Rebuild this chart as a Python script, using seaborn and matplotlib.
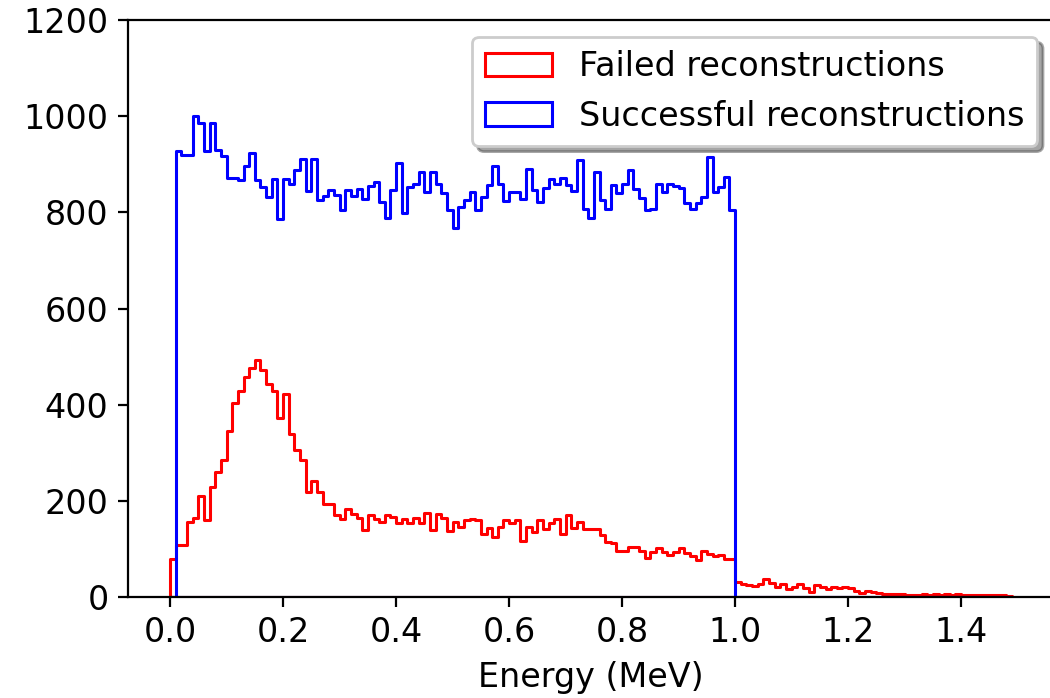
import numpy as np
import pandas as pd
import matplotlib
matplotlib.use("Agg")
import matplotlib.pyplot as plt
import seaborn as sns

# Shared energy binning: 0.01 MeV bins from 0.00 to 1.49 MeV
bin_edges = np.arange(0, 1.5, 0.01)
bin_centers = bin_edges[:-1] + 0.005

# Counts per bin for events whose reconstruction failed (0.00 - 1.49 MeV)
failed_counts = [
    80, 108, 108, 155, 165, 211, 160, 229, 261, 285,
    345, 403, 429, 458, 477, 492, 472, 444, 429, 373,
    422, 338, 306, 285, 219, 241, 219, 193, 193, 170,
    162, 182, 172, 164, 139, 171, 162, 155, 171, 167,
    153, 162, 153, 164, 153, 174, 139, 172, 164, 138,
    155, 146, 160, 162, 160, 130, 143, 124, 146, 160,
    153, 160, 117, 146, 136, 160, 141, 153, 162, 131,
    171, 143, 155, 141, 141, 141, 129, 115, 112, 96,
    96, 104, 104, 96, 82, 94, 101, 94, 87, 94,
    101, 91, 85, 77, 96, 89, 85, 87, 78, 78,
    32, 27, 25, 22, 28, 37, 30, 21, 27, 16,
    20, 26, 18, 11, 25, 21, 16, 21, 18, 21,
    18, 13, 8, 13, 11, 9, 6, 7, 7, 6,
    5, 4, 4, 6, 5, 6, 5, 6, 5, 7,
    4, 4, 5, 5, 4, 4, 5, 5, 3,
]

# Counts per bin for successful reconstructions (0.01 - 1.00 MeV)
successful_counts = [
    928, 919, 919, 1000, 985, 928, 985, 930, 917,
    871, 871, 867, 896, 924, 867, 852, 831, 869, 786,
    869, 860, 888, 910, 844, 912, 826, 834, 847, 836,
    805, 847, 833, 849, 827, 855, 864, 822, 788, 847,
    902, 798, 853, 860, 883, 843, 883, 860, 840, 805,
    767, 812, 826, 842, 805, 831, 857, 897, 860, 824,
    843, 843, 827, 890, 847, 822, 850, 869, 860, 871,
    857, 844, 909, 806, 788, 883, 826, 808, 857, 840,
    858, 888, 848, 829, 805, 807, 858, 843, 858, 855,
    851, 820, 807, 819, 831, 916, 843, 853, 873, 805,
]

series_labels = ["Failed reconstructions", "Successful reconstructions"]
series_colors = ["red", "blue"]

n_bins = len(bin_centers)
successful_full = [0] + successful_counts
successful_full += [0] * (n_bins - len(successful_full))

df = pd.DataFrame({
    "energy": bin_centers,
    "failed": failed_counts,
    "successful": successful_full,
})

plt.rcParams["font.size"] = 12
plt.rcParams["font.family"] = ["DejaVu Sans"]

fig = plt.figure(figsize=(5.25, 3.49), dpi=200)
ax = fig.add_axes([0.1219, 0.1447, 0.882, 0.8266])

for col, label, color in zip(["failed", "successful"], series_labels, series_colors):
    sns.histplot(
        data=df, x="energy", weights=col, bins=bin_edges.tolist(),
        element="step", fill=True, color=color, facecolor="none",
        edgecolor=color, linewidth=1.1, label=label, ax=ax,
    )

ax.set_xlim(-0.0745, 1.5645)
ax.set_ylim(0, 1200)
ax.set_xlabel("Energy (MeV)")
ax.set_ylabel("")
ax.legend(loc="upper right", shadow=True, fancybox=True)

fig.savefig("out.png", dpi=200)
